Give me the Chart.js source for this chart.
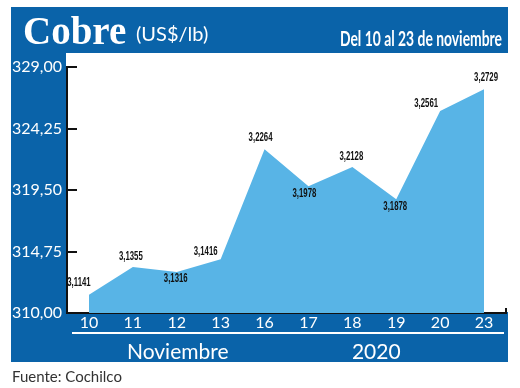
<!DOCTYPE html>
<html><head><meta charset="utf-8">
<script src="https://cdn.jsdelivr.net/npm/chart.js@4"></script>
<style>
html,body{margin:0;padding:0;background:#fff;width:520px;height:388px;overflow:hidden;}
#frame{position:absolute;left:11px;top:7px;width:497px;height:355px;background:#0a63a9;}
#c{position:absolute;left:0;top:0;}
.t{position:absolute;white-space:nowrap;line-height:1;color:#fff;}
#cobre{left:23px;top:8px;font:bold 39px "Liberation Serif";}
#unit{left:136px;top:21px;font:20px Lato;}
#range{right:18px;top:25px;font:bold 21px Lato;transform-origin:right center;}
#mes{top:338px;font:21px Lato;}
#anio{top:338px;font:21px Lato;}
#fuente{left:12px;top:367px;font:15px Lato;color:#333;}
#uline{position:absolute;left:72px;top:332px;width:432px;height:2px;background:#fff;}
</style></head>
<body>
<div id="frame"></div>
<div id="uline"></div>
<canvas id="c" width="520" height="388"></canvas>
<div class="t" id="cobre">Cobre</div>
<div class="t" id="unit">(US$/lb)</div>
<div class="t" id="range">Del 10 al 23 de noviembre</div>
<div class="t" id="mes">Noviembre</div>
<div class="t" id="anio">2020</div>
<div class="t" id="fuente">Fuente: Cochilco</div>
<script>
// ---- data ----
const days = ['10','11','12','13','16','17','18','19','20','23'];
const prices = [311.41, 313.55, 313.16, 314.16, 322.64, 319.78, 321.28, 318.78, 325.61, 327.29]; // US cents/lb
const yTicks = [310, 314.75, 319.5, 324.25, 329];
const groupLabels = ['Noviembre', '2020'];

const priceLabels = prices.map(v => (v / 100).toFixed(4).replace('.', ','));
const labelOffsets = [[-10,-12],[-2,-11],[-1,6],[-15,-8],[-4,-12],[-4,7],[-1,-11],[-1,7],[-14,-7],[2,-12]];

// fit the condensed header text
(function(){
  const r = document.getElementById('range');
  const w = r.getBoundingClientRect().width;
  r.style.transform = 'scaleX(' + (162 / w) + ')';
})();

const bgPlugin = {
  id: 'bg',
  beforeDraw(chart) {
    const {ctx, chartArea: a} = chart;
    ctx.save();
    ctx.fillStyle = '#fff';
    ctx.fillRect(a.left - 1, 53, 508 - (a.left - 1), a.bottom - 53 - 1);
    ctx.restore();
  },
  afterDraw(chart) {
    const {ctx, chartArea: a} = chart;
    const ys = chart.scales.y;
    ctx.save();
    ctx.strokeStyle = '#111';
    ctx.lineWidth = 2;
    ys.ticks.forEach(t => {
      const y = Math.round(ys.getPixelForValue(t.value));
      ctx.beginPath(); ctx.moveTo(a.left, y); ctx.lineTo(a.left + 10, y); ctx.stroke();
    });
    ctx.beginPath(); ctx.moveTo(a.right, a.bottom); ctx.lineTo(a.right, a.bottom - 5); ctx.stroke();
    ctx.restore();
  },
  afterDatasetsDraw(chart) {
    const {ctx} = chart;
    const meta = chart.getDatasetMeta(0);
    ctx.save();
    ctx.fillStyle = '#111';
    ctx.font = 'bold 13px "Liberation Sans"';
    ctx.textAlign = 'center';
    ctx.textBaseline = 'middle';
    meta.data.forEach((p, i) => {
      const [dx, dy] = labelOffsets[i];
      ctx.save();
      ctx.translate(p.x + dx, p.y + dy);
      ctx.scale(0.6, 1);
      ctx.fillText(priceLabels[i], 0, 0);
      ctx.restore();
    });
    ctx.restore();
  }
};

const chart = new Chart(document.getElementById('c'), {
  type: 'line',
  data: {
    labels: days,
    datasets: [{
      data: prices,
      fill: 'start',
      backgroundColor: '#58b4e6',
      borderWidth: 0,
      borderColor: 'rgba(0,0,0,0)',
      pointRadius: 0,
      tension: 0
    }]
  },
  options: {
    responsive: false,
    animation: false,
    events: [],
    layout: {padding: {top: 67, right: 14, left: 0, bottom: 0}},
    plugins: {legend: {display: false}, tooltip: {enabled: false}},
    scales: {
      x: {
        offset: true,
        grid: {display: false, drawTicks: false},
        border: {display: true, color: '#111', width: 2},
        ticks: {color: '#fff', font: {family: 'Lato', size: 16}, padding: 0, maxRotation: 0, autoSkip: false},
        afterFit(s) { s.height = 75; }
      },
      y: {
        min: 310, max: 329,
        grid: {display: false, drawTicks: false},
        border: {display: true, color: '#111', width: 2},
        afterBuildTicks(s) { s.ticks = yTicks.map(v => ({value: v})); },
        ticks: {
          color: '#fff', font: {family: 'Lato', size: 16}, padding: 5,
          callback: v => v.toFixed(2).replace('.', ',')
        },
        afterFit(s) { s.width = 67; }
      }
    }
  },
  plugins: [bgPlugin]
});

// place group labels under the x axis
(function(){
  const xs = chart.scales.x;
  const mes = document.getElementById('mes');
  const anio = document.getElementById('anio');
  mes.textContent = groupLabels[0];
  anio.textContent = groupLabels[1];
  const c1 = (xs.getPixelForValue(1) + xs.getPixelForValue(3)) / 2 + 1;
  const c2 = (xs.getPixelForValue(6) + xs.getPixelForValue(7)) / 2 + 2;
  mes.style.left = (c1 - mes.getBoundingClientRect().width / 2) + 'px';
  anio.style.left = (c2 - anio.getBoundingClientRect().width / 2) + 'px';
})();
</script>
</body></html>
